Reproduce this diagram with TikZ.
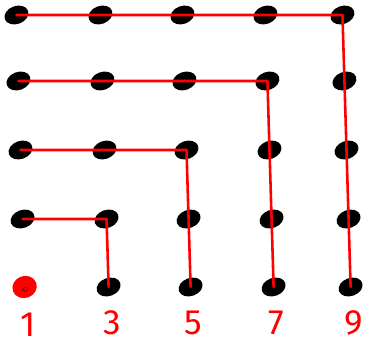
\documentclass[tikz,border=0pt]{standalone}
\usepackage{fontspec}
\setsansfont{Fira Sans}
\usetikzlibrary{shapes.geometric,positioning}
\tikzset{
  dot/.style={ellipse,fill=#1,minimum width=7.4mm,minimum height=5.4mm,inner sep=0pt,rotate=20},
  dot/.default=black,
  lpath/.style={draw=red,line width=2.2pt,line cap=round,line join=round},
  num/.style={text=red,inner sep=0pt,font=\sffamily\fontsize{30}{30}\selectfont},
}
\begin{document}
\begin{tikzpicture}[x=0.3mm,y=-0.3mm]
  \useasboundingbox (0,0) rectangle (367,345);
  % grid of dots
  \foreach \x [count=\i] in {16,100,182,265,342}{
    \foreach \y [count=\j] in {15,81,150,219,287}{
      \ifnum\i\j=15 \def\c{red}\def\h{6.6mm}\else\def\c{black}\def\h{5.4mm}\fi
      \node[dot=\c,minimum height=\h] (d\i\j) at ({\x+0.03*\y},\y) {};
    }
  }
  \draw[red!45!black,line width=0.5pt] (d15.center) ++(-0.9,1.5) arc (200:-90:2.2) arc (-90:-200:3.6);
  % the L shapes
  \draw[lpath] (d14.center) -- (d24.center) -- (d25.center);
  \draw[lpath] (d13.center) -- (d33.center) -- (d35.center);
  \draw[lpath] (d12.center) -- (d42.center) -- (d45.center);
  \draw[lpath] (d11.center) -- (d51.center) -- (d55.center);
  % odd numbers
  \foreach \n [count=\i] in {1,3,5,7,9}
    \node[num,below=4.5mm of d\i5] (n\i) {\n};
\end{tikzpicture}
\end{document}
